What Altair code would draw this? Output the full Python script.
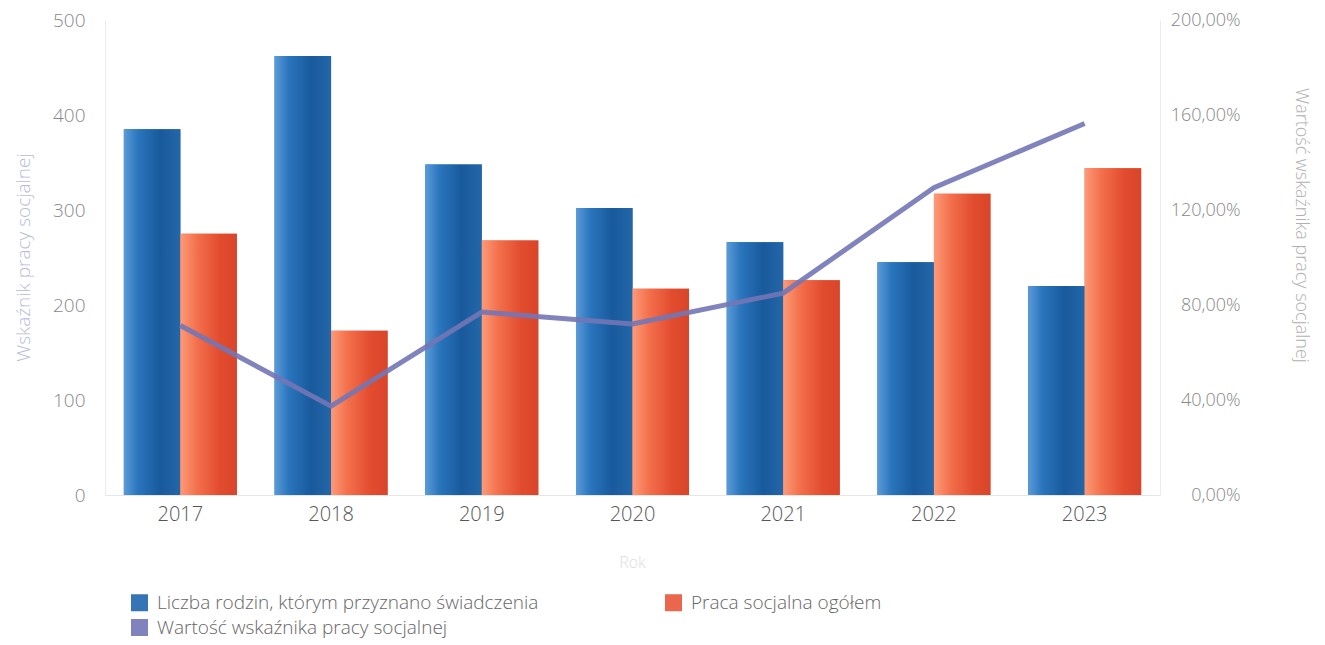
import altair as alt
import pandas as pd

years = ["2017", "2018", "2019", "2020", "2021", "2022", "2023"]
families = [385, 462, 348, 302, 266, 245, 220]
social_work = [275, 173, 268, 217, 226, 317, 344]
indicator = [71.4, 37.4, 77.0, 72.0, 85.0, 129.4, 156.4]

S1 = "Liczba rodzin, którym przyznano świadczenia"
S2 = "Praca socjalna ogółem"
S3 = "Wartość wskaźnika pracy socjalnej"
legend_order = [S1, S3, S2]
legend_colors = ["#1f66ad", "#7376b5", "#e8553a"]

bars_df = pd.DataFrame(
    {"year": years * 2,
     "series": [S1] * len(years) + [S2] * len(years),
     "value": families + social_work}
)
line_df = pd.DataFrame({"year": years, "series": [S3] * len(years), "pct": indicator})

FONT = "Open Sans"
LIGHT = 300

x_enc = alt.X(
    "year:N",
    sort=years,
    scale=alt.Scale(paddingInner=0.25, paddingOuter=0.125),
    axis=alt.Axis(
        title="Rok", labelAngle=0, labelFontSize=20, labelColor="#555555", labelPadding=9,
        labelFontWeight=LIGHT,
        ticks=False, domainColor="#e6e6e6", titleColor="#dddddd", titleFontSize=16,
        titleFontWeight=LIGHT, titleX=527, titleY=67, titleBaseline="middle",
        labelFont=FONT, titleFont=FONT,
    ),
)
xoff_enc = alt.XOffset("series:N", sort=[S1, S2], scale=alt.Scale(domain=[S1, S2], paddingInner=0))
y_enc = alt.Y(
    "value:Q",
    scale=alt.Scale(domain=[0, 500]),
    axis=alt.Axis(
        title="Wskaźnik pracy socjalnej", values=[0, 100, 200, 300, 400, 500], grid=False,
        ticks=False, domainColor="#ececec", labelColor="#888888", labelFontSize=19,
        labelFontWeight=LIGHT,
        labelPadding=20, titleColor="#b9badc", titleFontSize=19, titleFontWeight=LIGHT,
        titleAngle=270, titleX=-82, titleY=237, titleAlign="center", titleBaseline="middle",
        labelFont=FONT, titleFont=FONT,
    ),
)

color_enc = alt.Color(
    "series:N",
    scale=alt.Scale(domain=legend_order, range=legend_colors),
    legend=alt.Legend(
        title=None, orient="none", legendX=25, legendY=573, columns=2, columnPadding=125,
        symbolType="square", symbolSize=289, labelFontSize=19, labelColor="#666666",
        labelFontWeight=LIGHT, labelOffset=8,
        labelLimit=600, rowPadding=5, labelFont=FONT, symbolStrokeWidth=0,
    ),
)

base_bars = alt.Chart(bars_df).mark_bar().encode(x=x_enc, xOffset=xoff_enc, y=y_enc, color=color_enc)

blue_grad = alt.Gradient(
    gradient="linear", x1=0, x2=1, y1=0, y2=0,
    stops=[
        alt.GradientStop(color="#5b9bd8", offset=0),
        alt.GradientStop(color="#2a75bd", offset=0.25),
        alt.GradientStop(color="#185a9c", offset=0.65),
        alt.GradientStop(color="#2467a8", offset=1),
    ],
)
orange_grad = alt.Gradient(
    gradient="linear", x1=0, x2=1, y1=0, y2=0,
    stops=[
        alt.GradientStop(color="#fc9a78", offset=0),
        alt.GradientStop(color="#f36f4b", offset=0.3),
        alt.GradientStop(color="#e24c2e", offset=0.7),
        alt.GradientStop(color="#d9452a", offset=1),
    ],
)

blue_bars = alt.Chart(bars_df).mark_bar(color=blue_grad).encode(
    x=x_enc, xOffset=xoff_enc, y=y_enc
).transform_filter(alt.datum.series == S1)
orange_bars = alt.Chart(bars_df).mark_bar(color=orange_grad).encode(
    x=x_enc, xOffset=xoff_enc, y=y_enc
).transform_filter(alt.datum.series == S2)

bars = alt.layer(base_bars, blue_bars, orange_bars)

line = alt.Chart(line_df).mark_line(strokeWidth=5, opacity=0.9).encode(
    x=x_enc,
    y=alt.Y(
        "pct:Q",
        scale=alt.Scale(domain=[0, 200]),
        axis=alt.Axis(
            orient="right", title=S3, values=[0, 40, 80, 120, 160, 200], grid=False,
            ticks=False, domainColor="#ececec", labelColor="#888888", labelFontSize=18,
            labelFontWeight=LIGHT,
            labelAlign="right", labelPadding=80,
            labelExpr="replace(format(datum.value, '.2f'), '.', ',') + '%'",
            titleColor="#b0b0b0", titleFontSize=18, titleFontWeight=LIGHT, titleAngle=90,
            titleX=140, titleY=205, titleAlign="center", titleBaseline="middle",
            labelFont=FONT, titleFont=FONT,
        ),
    ),
    color=color_enc,
)

chart = alt.layer(bars, line).resolve_scale(y="independent").properties(
    width=1055,
    height=475,
    autosize=alt.AutoSizeParams(type="none"),
    padding={"left": 97, "top": 12, "right": 157, "bottom": 150},
).configure_view(stroke=None)

chart.save("out.html", embed_options={"renderer": "svg", "actions": False})
